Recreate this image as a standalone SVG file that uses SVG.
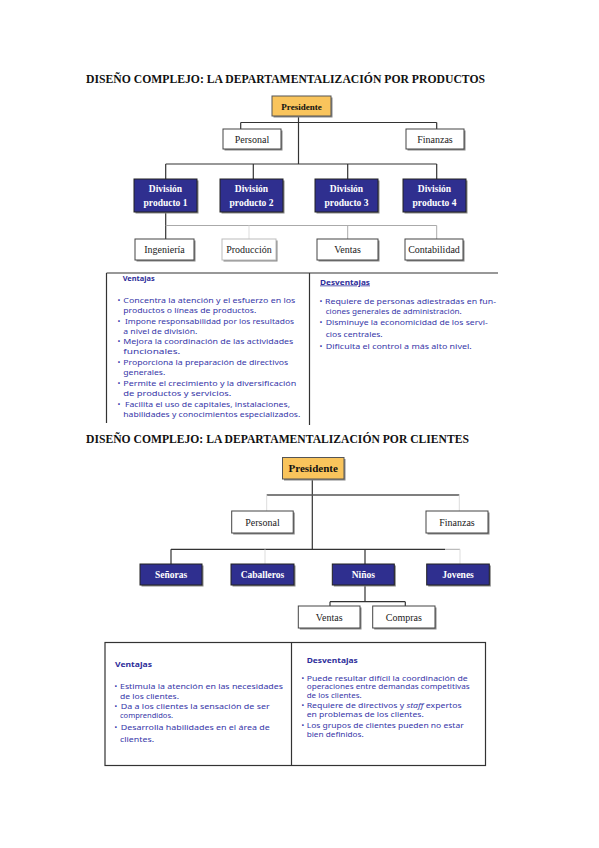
<svg xmlns="http://www.w3.org/2000/svg" width="599" height="848" viewBox="0 0 599 848">
<style>
.bg{fill:#fff}
.title{font-family:"Liberation Serif",serif;font-weight:bold;font-size:12.5px;fill:#111}
.sh{fill:#888}
.gold{fill:#F9C45C;stroke:#555;stroke-width:1}
.blue{fill:#2F2F8F;stroke:#222;stroke-width:1}
.white{fill:#fff;stroke:#444;stroke-width:1}
.t{font-family:"Liberation Serif",serif;font-size:10px;fill:#222;text-anchor:middle}
.tb{font-family:"Liberation Serif",serif;font-size:9.5px;font-weight:bold;fill:#fff;text-anchor:middle}
.tp{font-family:"Liberation Serif",serif;font-weight:bold;fill:#111;text-anchor:middle}
.c{stroke:#333;stroke-width:1.2;fill:none}
.cl{stroke:#aaa;stroke-width:1;fill:none}
.cf{stroke:#ddd;stroke-width:1;fill:none}
.tbl{stroke:#333;stroke-width:1.2;fill:none}
.v{font-family:"Noto Sans","DejaVu Sans",sans-serif;font-size:7.6px;fill:#3636A8}
.vb{font-family:"Noto Sans","DejaVu Sans",sans-serif;font-size:7.6px;font-weight:bold;fill:#2D2D9A}
.v2{font-family:"Noto Sans","DejaVu Sans",sans-serif;font-size:7px;fill:#3636A8}
.vb2{font-family:"Noto Sans","DejaVu Sans",sans-serif;font-size:7.2px;font-weight:bold;fill:#2D2D9A}
</style>
<rect class="bg" x="0" y="0" width="599" height="848"/>

<text class="title" x="86" y="82.5" textLength="399" lengthAdjust="spacingAndGlyphs">DISEÑO COMPLEJO: LA DEPARTAMENTALIZACIÓN POR PRODUCTOS</text>
<text class="title" x="86" y="442.5" textLength="383" lengthAdjust="spacingAndGlyphs">DISEÑO COMPLEJO: LA DEPARTAMENTALIZACIÓN POR CLIENTES</text>

<g id="connectors">
  <!-- chart 1 -->
  <path class="c" d="M298.5 116 V164"/>
  <path class="c" d="M240.7 122.5 H436.7 M240.7 122.5 V129 M436.7 122.5 V129"/>
  <path class="c" d="M165.7 164 H436.7 M165.7 164 V179 M253.3 164 V179 M347.7 164 V179 M436.7 164 V179"/>
  <path class="c" d="M165.7 212 V239"/>
  <path class="cl" d="M165.7 225.5 H436.7 M347.7 225.5 V239 M436.7 225.5 V239"/>
  <path class="cf" d="M249 225.5 V239"/>
  <!-- chart 2 -->
  <path class="c" d="M312.3 479 V549.3"/>
  <path class="c" style="stroke:#555;stroke-width:1.4" d="M266.7 495 H459.3"/>
  <path class="cf" d="M266.7 495 V511 M459.3 495 V511"/>
  <path class="c" d="M171 549.3 H445"/>
  <path class="cl" d="M445 549.3 H460"/>
  <path class="c" d="M171 549.3 V564 M365 549.3 V564"/>
  <path class="cf" d="M265 549.3 V564 M460 549.3 V564"/>
  <path class="c" d="M365 585 V601.7 M330 601.7 H405.3 M330 601.7 V606 M405.3 601.7 V606"/>
</g>

<!-- chart 1 nodes -->
<g id="presidente1">
  <rect class="sh" x="273.5" y="97.5" width="59" height="20"/>
  <rect class="gold" x="272" y="96" width="59" height="20"/>
  <text class="tp" x="301.5" y="109.5" font-size="9">Presidente</text>
</g>
<g id="personal1">
  <rect class="sh" x="224.5" y="130.5" width="58" height="20"/>
  <rect class="white" x="223" y="129" width="58" height="20"/>
  <text class="t" x="252" y="142.5">Personal</text>
</g>
<g id="finanzas1">
  <rect class="sh" x="407.5" y="130.5" width="58" height="20"/>
  <rect class="white" x="406" y="129" width="58" height="20"/>
  <text class="t" x="435" y="142.5">Finanzas</text>
</g>
<g id="division1">
  <rect class="sh" x="135.5" y="180.5" width="63" height="33"/>
  <rect class="blue" x="134" y="179" width="63" height="33"/>
  <text class="tb" x="165.5" y="191.5">División</text>
  <text class="tb" x="165.5" y="205.5">producto 1</text>
</g>
<g id="division2">
  <rect class="sh" x="221.5" y="180.5" width="63" height="33"/>
  <rect class="blue" x="220" y="179" width="63" height="33"/>
  <text class="tb" x="251.5" y="191.5">División</text>
  <text class="tb" x="251.5" y="205.5">producto 2</text>
</g>
<g id="division3">
  <rect class="sh" x="316.5" y="180.5" width="63" height="33"/>
  <rect class="blue" x="315" y="179" width="63" height="33"/>
  <text class="tb" x="346.5" y="191.5">División</text>
  <text class="tb" x="346.5" y="205.5">producto 3</text>
</g>
<g id="division4">
  <rect class="sh" x="404.5" y="180.5" width="63" height="33"/>
  <rect class="blue" x="403" y="179" width="63" height="33"/>
  <text class="tb" x="434.5" y="191.5">División</text>
  <text class="tb" x="434.5" y="205.5">producto 4</text>
</g>
<g id="ingenieria">
  <rect class="sh" x="136.5" y="240.5" width="59" height="21"/>
  <rect class="white" x="135" y="239" width="59" height="21"/>
  <text class="t" x="164.5" y="253">Ingeniería</text>
</g>
<g id="produccion">
  <rect class="sh" x="223.5" y="240.5" width="54" height="21"/>
  <rect class="white" x="222" y="239" width="54" height="21" style="stroke:#bbb"/>
  <text class="t" x="249" y="253">Producción</text>
</g>
<g id="ventas1">
  <rect class="sh" x="318.5" y="240.5" width="61" height="21"/>
  <rect class="white" x="317" y="239" width="61" height="21"/>
  <text class="t" x="347.5" y="253">Ventas</text>
</g>
<g id="contabilidad">
  <rect class="sh" x="406.5" y="240.5" width="58" height="21"/>
  <rect class="white" x="405" y="239" width="58" height="21"/>
  <text class="t" x="434" y="253">Contabilidad</text>
</g>

<!-- table 1 -->
<g id="tabla1">
  <path class="tbl" d="M106.5 273 H498 M106.5 273 V423 M309.5 273 V425"/>
  <text class="vb" x="122.7" y="280.5" textLength="32" lengthAdjust="spacingAndGlyphs">Ventajas</text>
  <g class="v">
    <text x="117.5" y="303">•</text><text x="123.3" y="303" textLength="172" lengthAdjust="spacingAndGlyphs">Concentra la atención y el esfuerzo en los</text>
    <text x="123.3" y="313" textLength="133" lengthAdjust="spacingAndGlyphs">productos o líneas de productos.</text>
    <text x="117.5" y="323.5">•</text><text x="125" y="323.5" textLength="169" lengthAdjust="spacingAndGlyphs">Impone responsabilidad por los resultados</text>
    <text x="123.3" y="333.5" textLength="74" lengthAdjust="spacingAndGlyphs">a nivel de división.</text>
    <text x="117.5" y="343.5">•</text><text x="123.3" y="343.5" textLength="170" lengthAdjust="spacingAndGlyphs">Mejora la coordinación de las actividades</text>
    <text x="123.3" y="354" textLength="57" lengthAdjust="spacingAndGlyphs">funcionales.</text>
    <text x="117.5" y="364.7">•</text><text x="123.3" y="364.7" textLength="165" lengthAdjust="spacingAndGlyphs">Proporciona la preparación de directivos</text>
    <text x="123.3" y="375" textLength="42" lengthAdjust="spacingAndGlyphs">generales.</text>
    <text x="117.5" y="385.7">•</text><text x="123.3" y="385.7" textLength="173" lengthAdjust="spacingAndGlyphs">Permite el crecimiento y la diversificación</text>
    <text x="123.3" y="396.4" textLength="108" lengthAdjust="spacingAndGlyphs">de productos y servicios.</text>
    <text x="117.5" y="406.7">•</text><text x="125" y="406.7" textLength="165" lengthAdjust="spacingAndGlyphs">Facilita el uso de capitales, instalaciones,</text>
    <text x="123.3" y="416.7" textLength="177" lengthAdjust="spacingAndGlyphs">habilidades y conocimientos especializados.</text>
  </g>
  <text class="vb" x="320" y="284.5" textLength="50" lengthAdjust="spacingAndGlyphs" text-decoration="underline">Desventajas</text>
  <g class="v">
    <text x="319.5" y="303.5">•</text><text x="325" y="303.5" textLength="171" lengthAdjust="spacingAndGlyphs">Requiere de personas adiestradas en fun-</text>
    <text x="325.7" y="314" textLength="136" lengthAdjust="spacingAndGlyphs">ciones generales de administración.</text>
    <text x="319.5" y="325">•</text><text x="325.7" y="325" textLength="162" lengthAdjust="spacingAndGlyphs">Disminuye la economicidad de los servi-</text>
    <text x="325.7" y="337.4" textLength="57" lengthAdjust="spacingAndGlyphs">cios centrales.</text>
    <text x="319.5" y="349.4">•</text><text x="325.7" y="349.4" textLength="146" lengthAdjust="spacingAndGlyphs">Dificulta el control a más alto nivel.</text>
  </g>
</g>

<!-- chart 2 nodes -->
<g id="presidente2">
  <rect class="sh" x="284" y="459" width="61.5" height="21.5"/>
  <rect class="gold" x="282.5" y="457.5" width="61.5" height="21.5"/>
  <text class="tp" x="313.2" y="472.3" font-size="11">Presidente</text>
</g>
<g id="personal2">
  <rect class="sh" x="233.2" y="512.5" width="61.5" height="22"/>
  <rect class="white" x="231.7" y="511" width="61.5" height="22"/>
  <text class="t" x="262.5" y="526" font-size="10.5">Personal</text>
</g>
<g id="finanzas2">
  <rect class="sh" x="427.5" y="512.5" width="62" height="22"/>
  <rect class="white" x="426" y="511" width="62" height="22"/>
  <text class="t" x="457" y="526" font-size="10.5">Finanzas</text>
</g>
<g id="senoras">
  <rect class="sh" x="141.5" y="565.5" width="62" height="21"/>
  <rect class="blue" x="140" y="564" width="62" height="21"/>
  <text class="tb" x="171" y="578.3" font-size="10.5">Señoras</text>
</g>
<g id="caballeros">
  <rect class="sh" x="232.5" y="565.5" width="63" height="21"/>
  <rect class="blue" x="231" y="564" width="63" height="21"/>
  <text class="tb" x="262.5" y="578.3" font-size="10.5">Caballeros</text>
</g>
<g id="ninos">
  <rect class="sh" x="333.8" y="565.5" width="62" height="21"/>
  <rect class="blue" x="332.3" y="564" width="62" height="21"/>
  <text class="tb" x="363.3" y="578.3" font-size="10.5">Niños</text>
</g>
<g id="jovenes">
  <rect class="sh" x="428.2" y="565.5" width="62.6" height="21"/>
  <rect class="blue" x="426.7" y="564" width="62.6" height="21"/>
  <text class="tb" x="458" y="578.3" font-size="10.5">Jovenes</text>
</g>
<g id="ventas2">
  <rect class="sh" x="299.8" y="607.5" width="61.7" height="22"/>
  <rect class="white" x="298.3" y="606" width="61.7" height="22"/>
  <text class="t" x="329.2" y="621" font-size="10.5">Ventas</text>
</g>
<g id="compras">
  <rect class="sh" x="374.2" y="607.5" width="62.3" height="22"/>
  <rect class="white" x="372.7" y="606" width="62.3" height="22"/>
  <text class="t" x="403.8" y="621" font-size="10.5">Compras</text>
</g>

<!-- table 2 -->
<g id="tabla2">
  <rect class="tbl" x="105" y="642.5" width="380.5" height="123"/>
  <path class="tbl" d="M291.5 642.5 V765.5"/>
  <text class="vb2" x="115" y="666.5" textLength="37" lengthAdjust="spacingAndGlyphs">Ventajas</text>
  <g class="v2">
    <text x="114.5" y="689.3">•</text><text x="120" y="689.3" textLength="163" lengthAdjust="spacingAndGlyphs">Estimula la atención en las necesidades</text>
    <text x="120" y="698.6" textLength="59" lengthAdjust="spacingAndGlyphs">de los clientes.</text>
    <text x="114.5" y="708.6">•</text><text x="120.7" y="708.6" textLength="149" lengthAdjust="spacingAndGlyphs">Da a los clientes la sensación de ser</text>
    <text x="120" y="718.3" textLength="53" lengthAdjust="spacingAndGlyphs">comprendidos.</text>
    <text x="114.5" y="730.3">•</text><text x="120.7" y="730.3" textLength="149" lengthAdjust="spacingAndGlyphs">Desarrolla habilidades en el área de</text>
    <text x="120" y="741.9" textLength="34" lengthAdjust="spacingAndGlyphs">clientes.</text>
  </g>
  <text class="vb2" x="306.7" y="662.5" textLength="51" lengthAdjust="spacingAndGlyphs">Desventajas</text>
  <g class="v2">
    <text x="301.5" y="680.5">•</text><text x="306.7" y="680.5" textLength="161" lengthAdjust="spacingAndGlyphs">Puede resultar difícil la coordinación de</text>
    <text x="306.7" y="689.3" textLength="163" lengthAdjust="spacingAndGlyphs">operaciones entre demandas competitivas</text>
    <text x="306.7" y="698.1" textLength="55" lengthAdjust="spacingAndGlyphs">de los clientes.</text>
    <text x="301.5" y="708.4">•</text><text x="306.7" y="708.4" textLength="155" lengthAdjust="spacingAndGlyphs">Requiere de directivos y <tspan font-style="italic">staff</tspan> expertos</text>
    <text x="306.7" y="717.2" textLength="117" lengthAdjust="spacingAndGlyphs">en problemas de los clientes.</text>
    <text x="301.5" y="727.7">•</text><text x="306.7" y="727.7" textLength="157" lengthAdjust="spacingAndGlyphs">Los grupos de clientes pueden no estar</text>
    <text x="306.7" y="736.5" textLength="57" lengthAdjust="spacingAndGlyphs">bien definidos.</text>
  </g>
</g>
</svg>
